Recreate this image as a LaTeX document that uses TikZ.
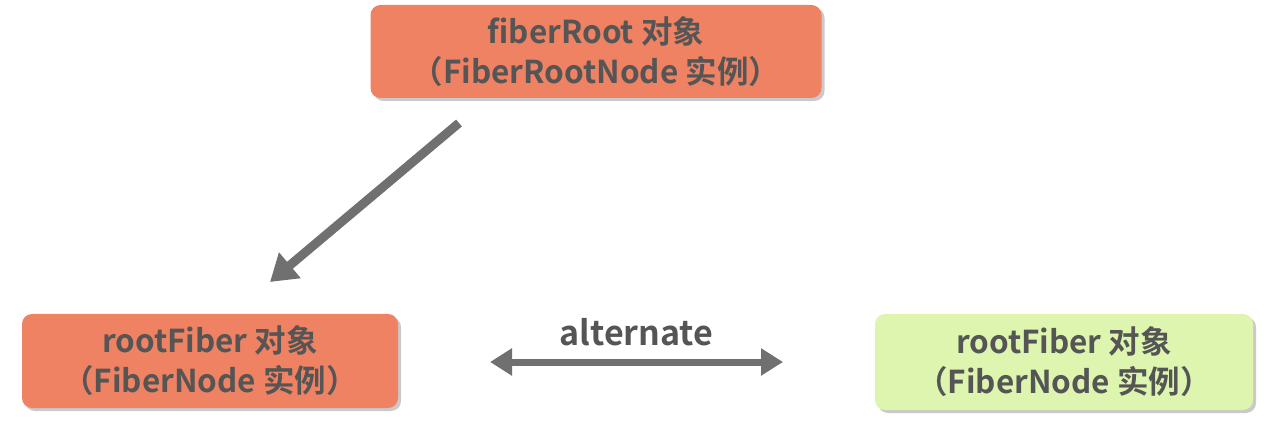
\documentclass[tikz,border=0pt]{standalone}
\usepackage{fontspec}
\setmainfont{Noto Sans CJK SC}[BoldFont={* Bold}]
\usetikzlibrary{shadows,arrows.meta}
\definecolor{boxorange}{HTML}{EF8262}
\definecolor{boxgreen}{HTML}{DDF5AE}
\definecolor{txtgrey}{HTML}{555555}
\definecolor{arrgrey}{HTML}{707070}
\begin{document}
\begin{tikzpicture}[x=1pt,y=-1pt,
  box/.style={rounded corners=10pt, inner sep=0pt, text=txtgrey, align=center,
    font=\bfseries\fontsize{31.5}{40}\selectfont,
    drop shadow={shadow xshift=3pt, shadow yshift=-3pt, opacity=0.35, fill=black!60}},
  conn/.style={draw=arrgrey, line width=9pt}
]
\useasboundingbox (0,0) rectangle (1287,435);
\node[box, fill=boxorange, minimum width=451pt, minimum height=93pt] (fr) at (596,51.5) {fiberRoot 对象\\（FiberRootNode 实例）};
\node[box, fill=boxorange, minimum width=376pt, minimum height=94pt] (rf1) at (210,361) {rootFiber 对象\\（FiberNode 实例）};
\node[box, fill=boxgreen, minimum width=378pt, minimum height=96pt] (rf2) at (1064,362) {rootFiber 对象\\（FiberNode 实例）};
\coordinate (s) at (459,123);
\coordinate (t) at (270,282);
\draw[conn, -{Triangle[length=26pt,width=32pt]}] (s) -- (t);
\coordinate (l) at (490,362);
\coordinate (r) at (783,362);
\draw[draw=arrgrey, line width=7pt, {Triangle[length=22pt,width=26pt]}-{Triangle[length=22pt,width=26pt]}] (l) -- node[above=9pt, text=txtgrey, font=\bfseries\fontsize{34}{36}\selectfont] (lab) {alternate} (r);
\end{tikzpicture}
\end{document}
